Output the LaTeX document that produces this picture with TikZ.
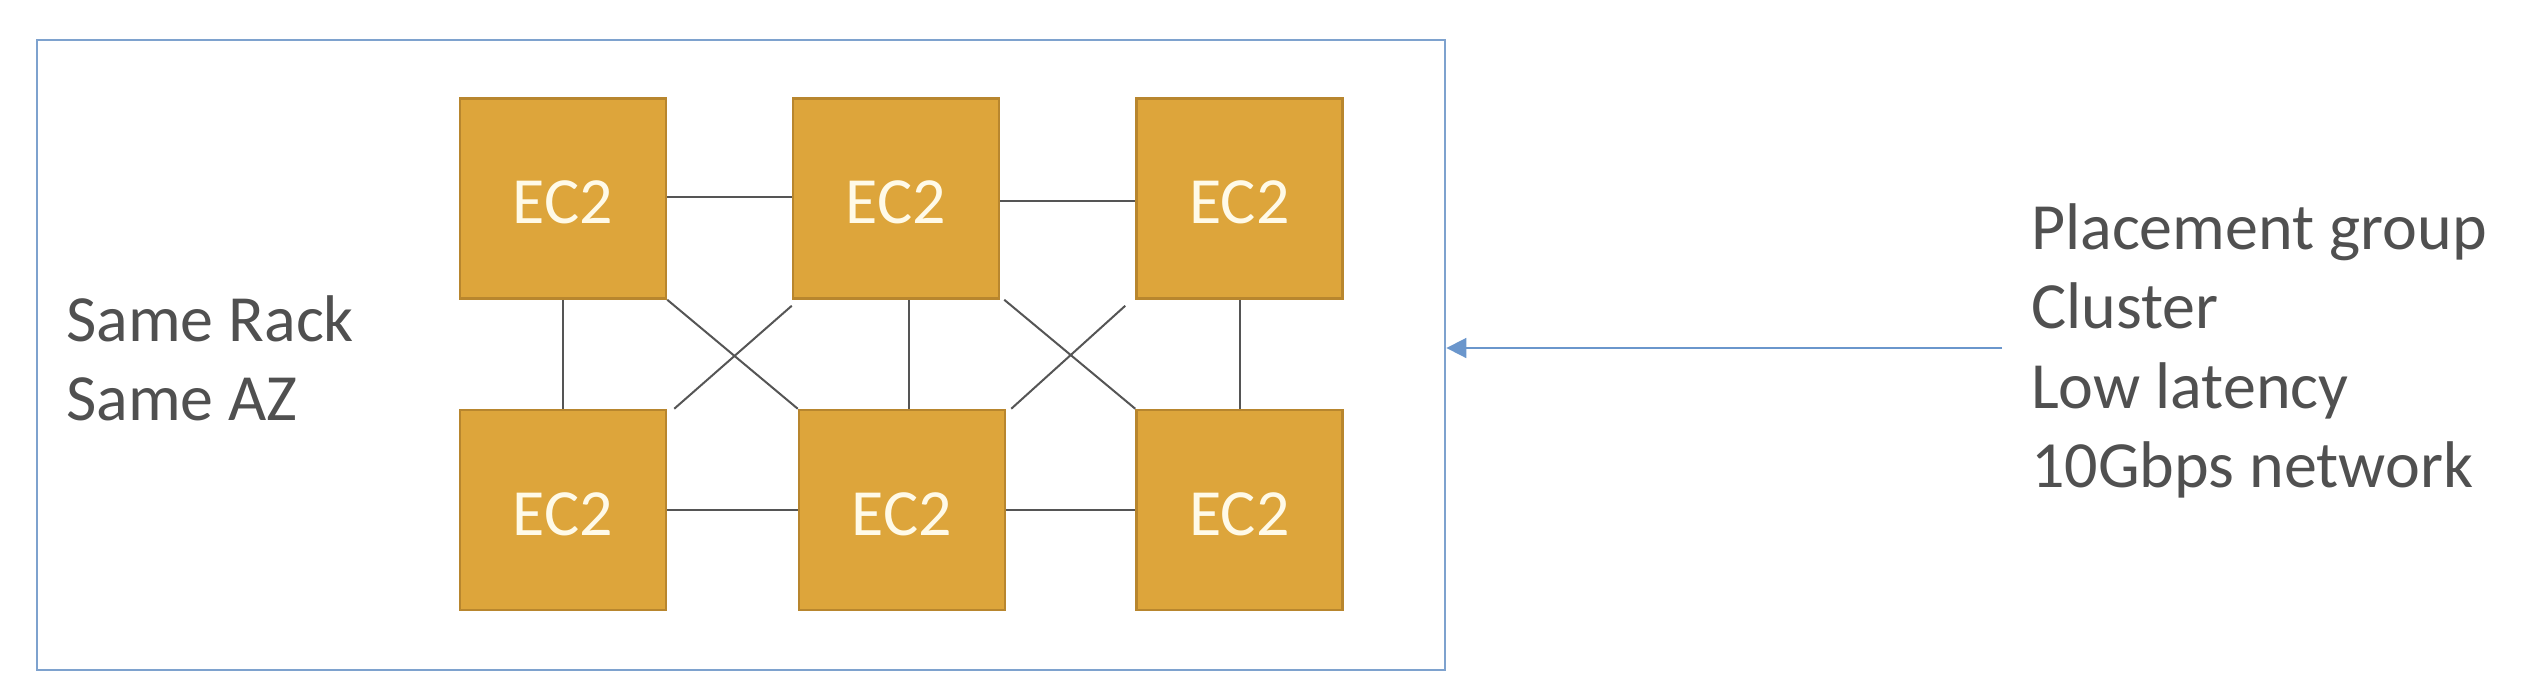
\documentclass[tikz,border=0pt]{standalone}
\usepackage{fontspec}
\setmainfont{Carlito}
\usetikzlibrary{arrows.meta}
\definecolor{boxfill}{HTML}{DDA53B}
\definecolor{boxedge}{HTML}{B8862E}
\definecolor{ectext}{HTML}{FFFAE8}
\definecolor{txtgray}{HTML}{505050}
\definecolor{linegray}{HTML}{555555}
\definecolor{rackblue}{HTML}{7EA2CE}
\definecolor{arrowblue}{HTML}{6A96CC}
\tikzset{
  ecbox/.style={draw=boxedge, line width=2.5pt, fill=boxfill, inner sep=0pt,
    minimum width=206pt, minimum height=200pt},
  ectxt/.style={text=ectext, inner sep=0pt, font=\fontsize{66}{78}\selectfont},
  link/.style={draw=linegray, line width=2pt},
  lbl/.style={anchor=base west, inner sep=0pt, text=txtgray,
    font=\fontsize{66}{79}\selectfont},
  rackbox/.style={draw=rackblue, line width=2.8pt, minimum width=1408pt,
    minimum height=630pt, inner sep=0pt}
}
\begin{document}
\begin{tikzpicture}[x=1pt,y=-1pt]
\useasboundingbox (0,0) rectangle (2534,694);
\node[rackbox] (rack) at (741,355) {};
\node[ecbox] (TL) at (563,198.5) {};
\node[ecbox] (TM) at (896,198.5) {};
\node[ecbox] (TR) at (1239.5,198.5) {};
\node[ecbox] (BL) at (563,510) {};
\node[ecbox] (BM) at (902,510) {};
\node[ecbox] (BR) at (1239.5,510) {};
\foreach \b in {TL,TM,TR,BL,BM,BR}
  \node[ectxt] (\b t) at ([yshift=-4pt]\b.center) {EC2};
\draw[link] ([yshift=2pt]TL.east) -- ([yshift=2pt]TM.west);
\draw[link] ([yshift=-2pt]TM.east) -- ([yshift=-2pt]TR.west);
\draw[link] (BL.east) -- (BM.west);
\draw[link] (BM.east) -- (BR.west);
\draw[link] (TL.south) -- (BL.north);
\draw[link] ([xshift=13pt]TM.south) -- ([xshift=13pt]TM.south |- BM.north);
\draw[link] (TR.south) -- (BR.north);
\draw[link] (TL.south east) -- (BM.north west);
\draw[link] ([yshift=-6pt]TM.south west) -- ([xshift=7pt]BL.north east);
\draw[link] ([xshift=4pt]TM.south east) -- (BR.north west);
\draw[link] ([xshift=-10pt,yshift=-6pt]TR.south west) -- ([xshift=5pt]BM.north east);
% left labels
\node[lbl] (sr) at (66,341) {Same Rack};
\node[lbl] (sa) at (66,420) {Same AZ};
% right labels
\node[lbl] (pg) at (2031,249) {Placement group};
\node[lbl] (cl) at (2031,328) {Cluster};
\node[lbl] (ll) at (2031,408) {Low latency};
\node[lbl] (gb) at (2031,487) {10Gbps network};
% arrow
\coordinate (src) at (2002,348);
\draw[draw=arrowblue, line width=1.8pt, -{Triangle[length=20pt,width=20pt]}] (src) -- (rack.east |- src);
\end{tikzpicture}
\end{document}
